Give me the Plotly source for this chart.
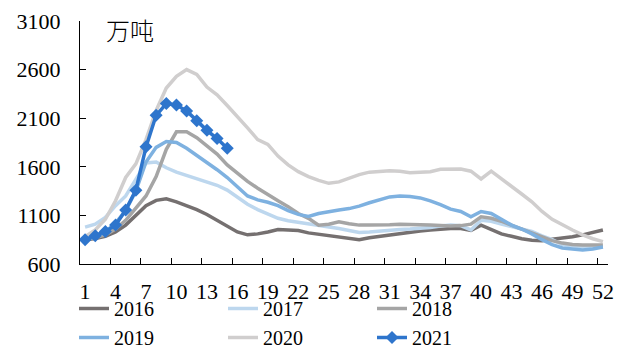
import plotly.graph_objects as go

weeks = list(range(1, 53))

s2016 = [850, 862, 885, 930, 1000, 1100, 1200, 1255, 1270, 1240, 1200, 1160, 1110,
         1050, 990, 930, 900, 910, 930, 955, 950, 945, 920, 905, 890, 875, 860, 850,
         870, 885, 900, 915, 930, 940, 950, 960, 965, 965, 945, 1000, 955, 910, 885,
         860, 845, 840, 855, 865, 880, 900, 925, 950]
s2017 = [980, 1010, 1080, 1200, 1300, 1470, 1640, 1650, 1590, 1545, 1510, 1478, 1445,
         1410, 1360, 1290, 1215, 1160, 1110, 1070, 1045, 1030, 1015, 995, 980, 965,
         945, 925, 930, 940, 950, 955, 960, 965, 975, 990, 1000, 995, 950, 1050, 1040,
         1010, 985, 965, 935, 890, 850, 800, 785, 775, 775, 780]
s2018 = [860, 870, 900, 960, 1050, 1170, 1300, 1500, 1780, 1960, 1960, 1900, 1820,
         1730, 1620, 1530, 1450, 1380, 1310, 1250, 1190, 1120, 1070, 1000, 1010, 1035,
         1015, 1000, 1000, 1000, 1005, 1010, 1010, 1005, 1000, 995, 990, 995, 1010,
         1085, 1070, 1040, 1000, 960, 920, 880, 840, 815, 800, 795, 795, 795]
s2019 = [850, 880, 930, 1020, 1150, 1350, 1650, 1800, 1860, 1850, 1790, 1720, 1640,
         1570, 1490, 1390, 1300, 1260, 1235, 1200, 1150, 1110, 1090, 1120, 1140, 1155,
         1170, 1195, 1230, 1260, 1290, 1300, 1295, 1280, 1250, 1210, 1165, 1140, 1085,
         1140, 1120, 1060, 1000, 960, 910, 850, 800, 765, 755, 745, 755, 775]
s2020 = [880, 950, 1060, 1250, 1490, 1630, 1880, 2180, 2410, 2530, 2600, 2550, 2420,
         2340, 2230, 2120, 2000, 1880, 1830, 1710, 1620, 1550, 1500, 1460, 1430, 1445,
         1480, 1520, 1545, 1555, 1560, 1555, 1540, 1545, 1550, 1575, 1580, 1578, 1555,
         1475, 1555, 1480, 1400, 1320, 1240, 1140, 1060, 1000, 950, 900, 860, 830]
s2021 = [850, 890, 935, 1000, 1155, 1360, 1805, 2130, 2250, 2235, 2175, 2075, 1975,
         1890, 1790]

y_ticks = [600, 1100, 1600, 2100, 2600, 3100]
x_tick_labels = list(range(1, 53, 3))

series = [
    ("2016", s2016, "#757070"),
    ("2017", s2017, "#BDD7EE"),
    ("2018", s2018, "#A5A5A5"),
    ("2019", s2019, "#7EB1E0"),
    ("2020", s2020, "#D0CECE"),
]

SERIF = "Liberation Serif"
tick_font = dict(family=SERIF, size=22, color="black")

fig = go.Figure()
for name, vals, color in series:
    fig.add_trace(go.Scatter(
        x=weeks[:len(vals)], y=vals, name=name, mode="lines",
        line=dict(color=color, width=3.5),
    ))
fig.add_trace(go.Scatter(
    x=weeks[:len(s2021)], y=s2021, name="2021", mode="lines+markers",
    line=dict(color="#2E75CC", width=3.5),
    marker=dict(symbol="diamond", size=10, color="#2E75CC"),
))

fig.update_layout(
    width=617, height=346,
    margin=dict(l=80, r=8.5, t=20.7, b=82, autoexpand=False),
    paper_bgcolor="white", plot_bgcolor="white",
    font=dict(family=SERIF, size=22, color="black"),
    showlegend=True,
    legend=dict(
        orientation="h", xref="container", yref="container",
        x=74 / 617, y=1 - 289 / 346, xanchor="left", yanchor="top",
        entrywidth=104, entrywidthmode="pixels",
        font=dict(family=SERIF, size=20, color="black"),
        bgcolor="rgba(0,0,0,0)", tracegroupgap=0,
    ),
    annotations=[dict(
        text="万吨", xref="paper", yref="paper", x=0.046, y=0.965,
        xanchor="left", yanchor="middle", showarrow=False,
        font=dict(family="Noto Sans CJK SC", size=24, color="black", weight=300),
    )],
)

fig.update_xaxes(
    range=[0.5, 52.5], tickmode="array", tickvals=x_tick_labels,
    ticktext=[str(v) for v in x_tick_labels], tickangle=0,
    tickfont=tick_font,
    ticks="", showgrid=False, zeroline=False,
    showline=True, linecolor="black", linewidth=1,
    ticklabelstandoff=8,
    minor=dict(tickmode="array", tickvals=[v + 2.5 for v in x_tick_labels[:-1]],
               ticks="inside", ticklen=6, tickcolor="black", tickwidth=1,
               showgrid=False),
)
fig.update_yaxes(
    range=[600, 3100], tickmode="array", tickvals=y_ticks,
    tickfont=tick_font,
    ticks="inside", ticklen=6, tickcolor="black", tickwidth=1,
    showgrid=False, zeroline=False,
    showline=True, linecolor="black", linewidth=1,
    ticklabelstandoff=14,
)

fig.write_html("out.html")
